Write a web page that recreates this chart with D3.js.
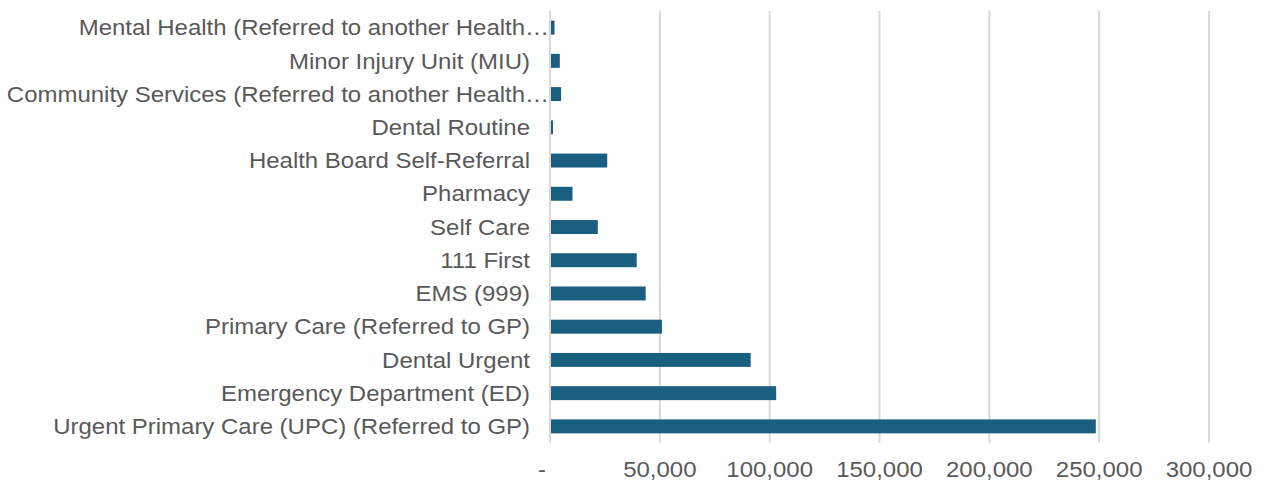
<!DOCTYPE html>
<html lang="en">
  <head>
    <meta charset="UTF-8" />
    <title>Referrals by outcome</title>
    <style>
      body { margin: 0; background: #fff; }
      svg { display: block; font-family: "Liberation Sans", Arial, sans-serif; }
    </style>
  </head>
  <body>
    <script src="https://cdn.jsdelivr.net/npm/d3@7"></script>
    <script>
      const categories = [
        "Mental Health (Referred to another Health…",
        "Minor Injury Unit (MIU)",
        "Community Services (Referred to another Health…",
        "Dental Routine",
        "Health Board Self-Referral",
        "Pharmacy",
        "Self Care",
        "111 First",
        "EMS (999)",
        "Primary Care (Referred to GP)",
        "Dental Urgent",
        "Emergency Department (ED)",
        "Urgent Primary Care (UPC) (Referred to GP)"
      ];
      const values = [1600, 4000, 4600, 900, 25600, 9800, 21300, 39000, 43100, 50500, 90900, 102500, 248000];
      const tickValues = [0, 50000, 100000, 150000, 200000, 250000, 300000];

      const width = 1266;
      const height = 482;
      const margin = { top: 11, right: 57, bottom: 39, left: 550 };
      const stretch = 1.09; // text in the original is slightly wide

      const svg = d3.select("body")
        .append("svg")
        .attr("width", width)
        .attr("height", height);

      const x = d3.scaleLinear()
        .domain([0, 300000])
        .range([margin.left, width - margin.right]);

      const y = d3.scaleBand()
        .domain(categories)
        .range([margin.top, height - margin.bottom])
        .paddingInner(0.58)
        .paddingOuter(0.29);

      // gridlines
      svg.append("g")
        .selectAll("line")
        .data(tickValues)
        .join("line")
        .attr("x1", d => x(d))
        .attr("x2", d => x(d))
        .attr("y1", margin.top)
        .attr("y2", height - margin.bottom)
        .attr("stroke", "#d9d9d9")
        .attr("stroke-width", 2);

      // bars
      svg.append("g")
        .selectAll("rect")
        .data(values)
        .join("rect")
        .attr("x", x(0) + 1)
        .attr("y", (d, i) => y(categories[i]))
        .attr("width", d => x(d) - x(0))
        .attr("height", y.bandwidth())
        .attr("fill", "#1a5e80");

      // x axis labels
      const fmt = d3.format(",");
      svg.append("g")
        .selectAll("text")
        .data(tickValues)
        .join("text")
        .attr("transform", d => `translate(${d === 0 ? x(d) - 8 : x(d)},477) scale(${stretch},1)`)
        .attr("text-anchor", "middle")
        .attr("fill", "#595959")
        .style("font-size", "22px")
        .text(d => d === 0 ? "-" : fmt(d));

      // category labels (truncated ones run up to the axis, like excel does)
      svg.append("g")
        .selectAll("text")
        .data(categories)
        .join("text")
        .attr("transform", d => {
          const tx = d.endsWith("…") ? 549 : 530;
          return `translate(${tx},${y(d) + y.bandwidth() / 2}) scale(${stretch},1)`;
        })
        .attr("dy", "0.35em")
        .attr("text-anchor", "end")
        .attr("fill", "#595959")
        .style("font-size", "22px")
        .text(d => d);
    </script>
  </body>
</html>
